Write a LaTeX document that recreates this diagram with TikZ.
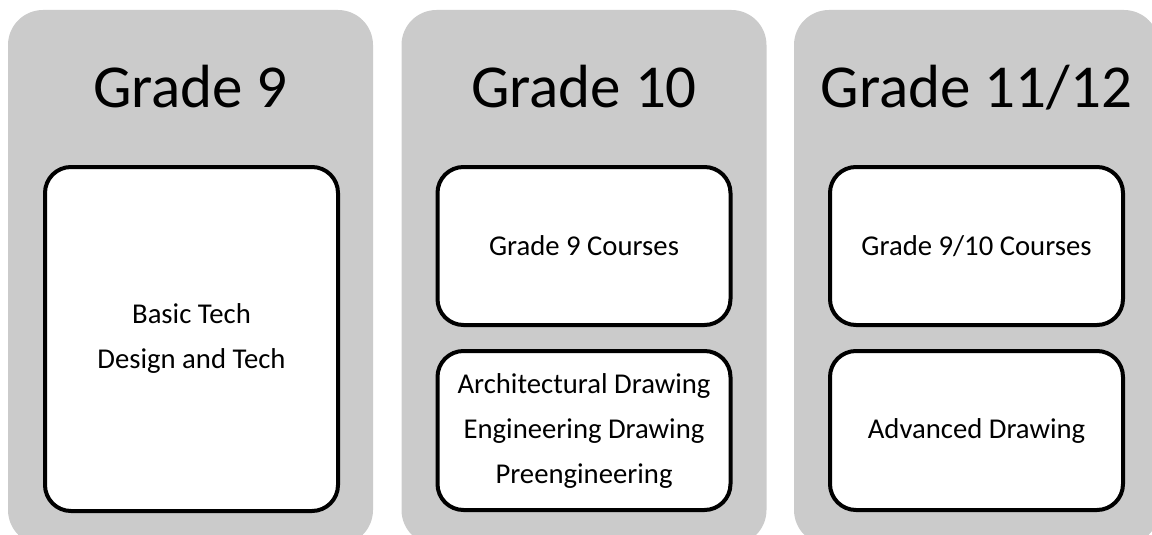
\documentclass[tikz,border=0pt]{standalone}
\usepackage{fontspec}
\setmainfont{Carlito}
\begin{document}
\begin{tikzpicture}[x=1pt,y=-1pt,
  panel/.style={fill=panelgray, draw=none, rounded corners=35pt, minimum width=365pt, minimum height=535pt, inner sep=0pt, outer sep=0pt},
  title/.style={font=\fontsize{61}{73}\selectfont, anchor=base, inner sep=0pt},
  course/.style={draw=black, fill=white, line width=4pt, rounded corners=26pt, minimum width=293pt, inner sep=0pt, align=center, font=\fontsize{28.7}{45}\selectfont}]
\definecolor{panelgray}{HTML}{CBCBCB}
\useasboundingbox (0,0) rectangle (1152,535);
\clip (0,0) rectangle (1152,535);
% panels
\node[panel] (p1) at (190.5,277.5) {};
\node[panel] (p2) at (584,277.5) {};
\node[panel] (p3) at (976.5,277.5) {};
% titles
\node[title] (t1) at (190.5,107) {Grade 9};
\node[title] (t2) at (584,107) {Grade 10};
\node[title] (t3) at (976.5,107) {Grade 11/12};
% course boxes
\node[course, minimum height=344pt] (b1) at (191.5,339) {Basic Tech\\Design and Tech};
\node[course, minimum height=158pt] (b2) at (584,246) {Grade 9 Courses};
\node[course, minimum height=159pt] (b3) at (584,430.5) {Architectural Drawing\\Engineering Drawing\\Preengineering};
\node[course, minimum height=158pt] (b4) at (976.5,246) {Grade 9/10 Courses};
\node[course, minimum height=159pt] (b5) at (976.5,430.5) {Advanced Drawing};
\end{tikzpicture}
\end{document}
